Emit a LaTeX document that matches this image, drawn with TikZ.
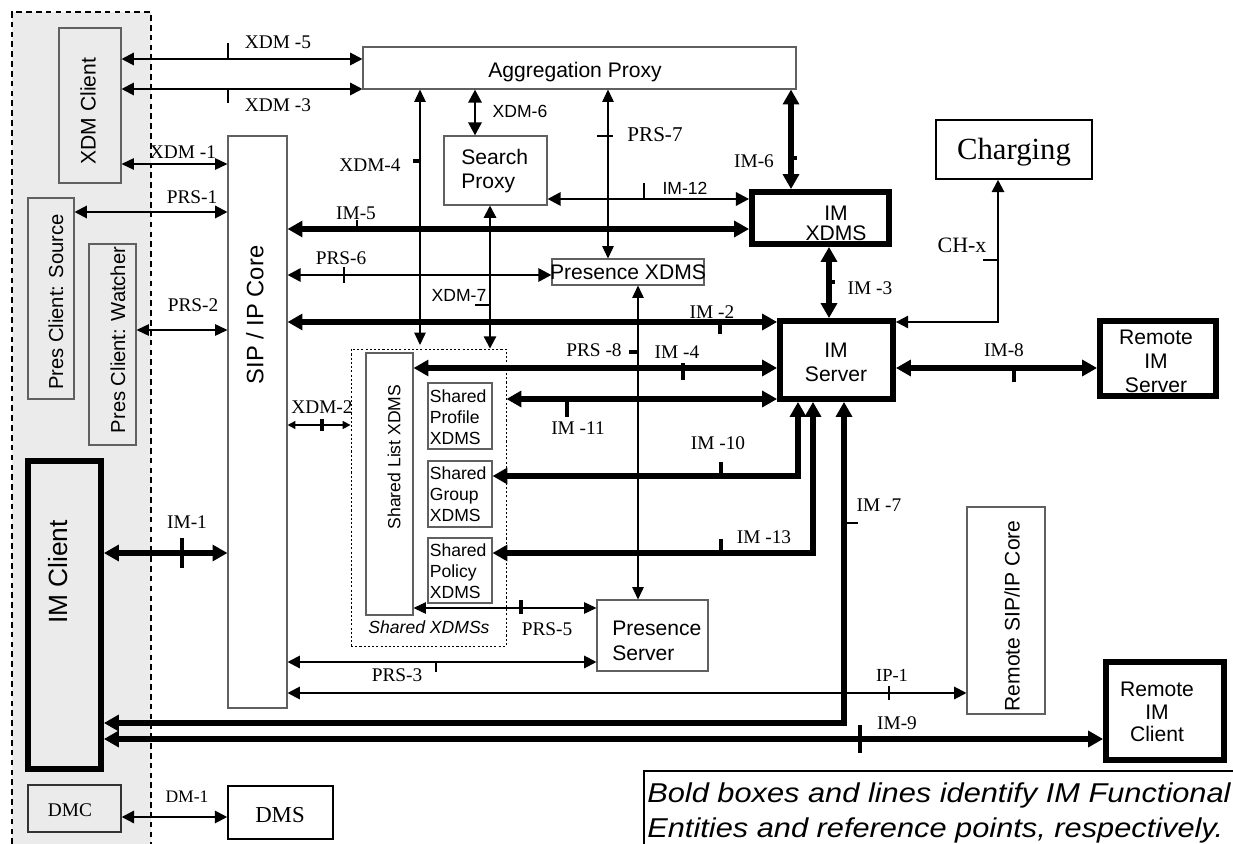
\documentclass[tikz,border=0pt]{standalone}
\usepackage{fontspec}
\setmainfont{Liberation Serif}
\setsansfont{Liberation Sans}
\usepackage{graphicx}
\usetikzlibrary{arrows.meta}
\definecolor{bggray}{HTML}{EBEBEB}
\definecolor{boxline}{HTML}{606060}
\newcommand\fsz[2]{\fontsize{#1}{#2}\selectfont}
\begin{document}
\begin{tikzpicture}[x=0.02cm,y=-0.02cm,
  wh/.style 2 args={minimum width=#1*0.02cm, minimum height=#2*0.02cm},
  wbox/.style={draw=boxline, line width=0.6pt, inner sep=0pt, fill=white},
  gbox/.style={draw=boxline, line width=0.6pt, inner sep=0pt, fill=bggray},
  kbox/.style={draw=black, line width=0.9pt, inner sep=0pt, fill=white},
  bbox/.style={draw=black, line width=3.3pt, inner sep=0pt, fill=white},
  dotbox/.style={draw=black, line width=0.5pt, dash pattern=on 1.2pt off 1.2pt, inner sep=0pt},
  lab/.style={inner sep=0pt, font=\fsz{11}{13}},
  slab/.style={inner sep=0pt, font=\sffamily\fsz{12}{14}},
  sslab/.style={inner sep=0pt, font=\sffamily\fsz{10}{12}},
  thinln/.style={line width=0.6pt, arrows={Triangle[length=7pt,width=6.5pt]-Triangle[length=7pt,width=6.5pt]}},
  medln/.style={line width=1.2pt, arrows={Triangle[length=7pt,width=7pt]-Triangle[length=7pt,width=7pt]}},
  medpln/.style={line width=1.6pt, arrows={Triangle[length=7.5pt,width=7.5pt]-Triangle[length=7.5pt,width=7.5pt]}},
  thickln/.style={line width=3pt, arrows={Triangle[length=8.5pt,width=9pt]-Triangle[length=8.5pt,width=9pt]}},
  smallln/.style={line width=0.9pt, arrows={Triangle[length=4.5pt,width=4.5pt]-Triangle[length=4.5pt,width=4.5pt]}},
  tick/.style={line width=1.2pt},
  ttick/.style={line width=1.8pt}
]
\useasboundingbox (0,0) rectangle (1233,844);
% client region
\fill[bggray] (12,12) rectangle (151,844);
\draw[line width=0.8pt, dash pattern=on 3.2pt off 2.4pt] (12,844) -- (12,12) -- (151,12) -- (151,844);

% boxes
\node[gbox, wh={62}{155}] (xdmc) at (90,105.5) {};
\node[slab, rotate=90] (xdmct) at (88,111) {XDM Client};
\node[gbox, wh={46}{201}] (psrc) at (51,298.5) {};
\node[slab, font=\sffamily\fsz{11.5}{14}, rotate=90] (psrct) at (56,302) {Pres Client: Source};
\node[gbox, wh={47}{201}] (pwat) at (112.5,344.5) {};
\node[slab, font=\sffamily\fsz{11.5}{14}, rotate=90] (pwatt) at (118,340) {Pres Client: Watcher};
\node[bbox, fill=bggray, wh={73}{308}] (imc) at (64.5,615) {};
\node[slab, font=\sffamily\fsz{15}{18}, rotate=90] (imct) at (58,572) {IM Client};
\node[gbox, draw=black!80, line width=0.8pt, wh={93}{47}] (dmc) at (74.5,808.5) {};
\node[lab] (dmct) at (70,810) {DMC};
\node[kbox, wh={105}{53}] (dms) at (280.5,812.5) {};
\node[lab, font=\fsz{13}{15}] (dmst) at (280,815) {DMS};
\node[wbox, wh={59}{572}] (sip) at (257.5,422) {};
\node[slab, font=\sffamily\fsz{13.5}{16}, rotate=90] (sipt) at (255,315) {SIP / IP Core};
\node[wbox, wh={433}{42}] (agg) at (579.5,68) {};
\node[slab] (aggt) at (575,72) {Aggregation Proxy};
\node[wbox, wh={103}{69}] (srch) at (495.5,170.5) {};
\node[slab, align=left, anchor=west] (srcht) at (461,171) {Search\\Proxy};
\node[bbox, wh={137}{52}] (imx) at (820.5,218) {};
\node[slab, align=center, font=\sffamily\fsz{12}{11.5}] (imxt) at (836,223) {IM\\XDMS};
\node[kbox, wh={156}{59}] (chg) at (1014,149.5) {};
\node[lab, font=\fsz{17.5}{20}] (chgt) at (1014,152) {Charging};
\node[bbox, wh={113}{78}] (ims) at (836.5,360) {};
\node[slab, align=center] (imst) at (836,362.5) {IM\\Server};
\node[bbox, wh={116}{75}] (rims) at (1158,358.5) {};
\node[slab, align=center, font=\sffamily\fsz{12}{13.7}] (rimst) at (1156,361) {Remote\\IM\\Server};
\node[wbox, wh={152}{26}] (pxdms) at (628,272) {};
\node[slab] (pxdmst) at (628,272) {Presence XDMS};
\node[dotbox, wh={155}{297}] (shx) at (428.5,497.5) {};
\node[wbox, wh={47}{262}] (slist) at (389.5,484) {};
\node[sslab, rotate=90] (slistt) at (394,457) {Shared List XDMS};
\node[wbox, wh={64}{66}] (sprof) at (460,416) {};
\node[sslab, align=left, anchor=west] (sproft) at (429.5,417) {Shared\\Profile\\XDMS};
\node[wbox, wh={64}{66}] (sgrp) at (460,494) {};
\node[sslab, align=left, anchor=west] (sgrpt) at (429.5,494.5) {Shared\\Group\\XDMS};
\node[wbox, wh={64}{65}] (spol) at (460,570.5) {};
\node[sslab, align=left, anchor=west] (spolt) at (429.5,571) {Shared\\Policy\\XDMS};
\node[sslab, font=\sffamily\itshape\fsz{10}{12}] (shxt) at (429,627) {Shared XDMSs};
\node[wbox, wh={111}{71}] (psrv) at (652.5,635.5) {};
\node[slab, align=left, anchor=west] (psrvt) at (612,641) {Presence\\Server};
\node[wbox, wh={78}{207}] (rsip) at (1006,610.5) {};
\node[slab, rotate=90] (rsipt) at (1012,616) {Remote SIP/IP Core};
\node[bbox, wh={118}{98}] (rimc) at (1165,711) {};
\node[slab, align=center, font=\sffamily\fsz{12}{12.8}] (rimct) at (1157,712) {Remote\\IM\\Client};

% note box
\draw[line width=1.2pt] (1240,771) -- (644,771) -- (644,850);
\node[anchor=base west, inner sep=0pt, font=\sffamily\itshape\fsz{15.5}{20}] (note1) at (647,802) {\scalebox{1.13}[1]{Bold boxes and lines identify IM Functional}};
\node[anchor=base west, inner sep=0pt, font=\sffamily\itshape\fsz{15.5}{20}] (note2) at (647,837) {\scalebox{1.13}[1]{Entities and reference points, respectively.}};

% ---------------- connectors ----------------
% XDM-5
\draw[medln] (xdmc.east |- 0,59) -- (agg.west |- 0,59);
\draw[tick] (228,43) -- (228,59);
\node[lab] (l5) at (278,42) {XDM -5};
% XDM-3
\draw[medln] (xdmc.east |- 0,89) -- (agg.west |- 0,89);
\draw[tick] (228,89) -- (228,103);
\node[lab] (l3) at (278,105) {XDM -3};
% XDM-1
\draw[thinln] (xdmc.east |- 0,164) -- (sip.west |- 0,164);
\node[lab] (l1) at (183,152) {XDM -1};
% PRS-1
\draw[medln] (psrc.east |- 0,212) -- (sip.west |- 0,212);
\node[lab] (lp1) at (192,197) {PRS-1};
% PRS-2
\draw[thinln] (pwat.east |- 0,330) -- (sip.west |- 0,330);
\node[lab] (lp2) at (193,305) {PRS-2};
% IM-1
\draw[thickln] (imc.east |- 0,553) -- (sip.west |- 0,553);
\draw[ttick] (182,538) -- (182,568);
\node[lab] (li1) at (187,522) {IM-1};
% XDM-2
\draw[smallln] (sip.east |- 0,425) -- (shx.west |- 0,425);
\draw[ttick] (322,419) -- (322,431);
\node[lab] (l2) at (322,407) {XDM-2};
% IM-5
\draw[thickln] (sip.east |- 0,229) -- (imx.west |- 0,229);
\draw[tick] (357,220) -- (357,229);
\node[lab] (li5) at (356,213) {IM-5};
% PRS-6
\draw[medpln] (sip.east |- 0,275) -- (pxdms.west |- 0,275);
\draw[tick] (344,267) -- (344,283);
\node[lab] (lp6) at (341,258) {PRS-6};
% IM-2
\draw[thickln] (sip.east |- 0,322) -- (ims.west |- 0,322);
\draw[ttick] (720,322) -- (720,334);
\node[lab] (li2) at (712,312) {IM -2};
% PRS-3
\draw[medln] (sip.east |- 0,662) -- (psrv.west |- 0,662);
\draw[tick] (436,662) -- (436,672);
\node[lab] (lp3) at (397,675) {PRS-3};
% IP-1
\draw[medln] (sip.east |- 0,693) -- (rsip.west |- 0,693);
\draw[tick] (889,686) -- (889,700);
\node[lab, font=\fsz{10.5}{12}] (lip1) at (892,675) {IP-1};
% IM-7
\draw[thickln] (imc.east |- 0,723) -| (ims.south -| 844,0);
\draw[tick] (844,523) -- (858,523);
\node[lab] (li7) at (879,505) {IM -7};
% IM-9
\draw[thickln] (imc.east |- 0,739) -- (rimc.west |- 0,739);
\draw[ttick] (860,725) -- (860,753);
\node[lab] (li9) at (897,723) {IM-9};
% DM-1
\draw[medln] (dmc.east |- 0,817) -- (dms.west |- 0,817);
\node[lab, font=\fsz{10}{12}] (ldm1) at (187,797) {DM-1};
% XDM-4
\coordinate (x4end) at (420,345);
\draw[thinln] (agg.south -| 420,0) -- (x4end);
\draw[ttick] (413,161) -- (420,161);
\node[lab] (l4) at (370,165) {XDM-4};
% XDM-6
\draw[medpln] (agg.south -| 475,0) -- (srch.north -| 475,0);
\node[sslab] (l6) at (520,111) {XDM-6};
% XDM-7
\draw[medln] (srch.south -| 490,0) -- (shx.north -| 490,0);
\draw[tick] (475,305) -- (490,305);
\node[sslab] (l7) at (459,295) {XDM-7};
% PRS-7
\draw[thinln] (agg.south -| 608,0) -- (pxdms.north -| 608,0);
\draw[tick] (597,136) -- (613,136);
\node[lab, font=\fsz{12}{14}] (lp7) at (655,135) {PRS-7};
% IM-6
\draw[thickln] (agg.south -| 791,0) -- (imx.north -| 791,0);
\draw[ttick] (791,158) -- (797,158);
\node[lab] (li6) at (754,161) {IM-6};
% IM-12
\draw[medpln] (srch.east |- 0,199) -- (imx.west |- 0,199);
\draw[tick] (644,183) -- (644,199);
\node[sslab] (li12) at (685,188) {IM-12};
% IM-3
\draw[thickln] (imx.south -| 829,0) -- (ims.north -| 829,0);
\draw[ttick] (829,282) -- (835,282);
\node[lab] (li3) at (870,288) {IM -3};
% CH-x
\draw[medln] (ims.east |- 0,322) -| (chg.south -| 998,0);
\draw[tick] (983,260) -- (998,260);
\node[lab, font=\fsz{12.5}{14}] (lch) at (962,245) {CH-x};
% IM-8
\draw[thickln] (ims.east |- 0,368) -- (rims.west |- 0,368);
\draw[ttick] (1014,368) -- (1014,382);
\node[lab] (li8) at (1004,350) {IM-8};
% PRS-8
\draw[thinln] (pxdms.south -| 638,0) -- (psrv.north -| 638,0);
\draw[ttick] (629,352) -- (638,352);
\node[lab] (lp8) at (594,350) {PRS -8};
% IM-4
\draw[thickln] (slist.east |- 0,368) -- (ims.west |- 0,368);
\draw[ttick] (683,363) -- (683,380);
\node[lab] (li4) at (677,352) {IM -4};
% IM-11
\draw[thickln] (shx.east |- 0,399) -- (ims.west |- 0,399);
\draw[ttick] (567,399) -- (567,417);
\node[lab] (li11) at (578,428) {IM -11};
% IM-10
\draw[thickln] (sgrp.east |- 0,476) -| (ims.south -| 798,0);
\draw[ttick] (721,462) -- (721,476);
\node[lab] (li10) at (718,443) {IM -10};
% IM-13
\draw[thickln] (spol.east |- 0,553) -| (ims.south -| 813,0);
\draw[ttick] (721,539) -- (721,553);
\node[lab] (li13) at (764,537) {IM -13};
% PRS-5
\draw[thinln] (slist.east |- 0,608) -- (psrv.west |- 0,608);
\draw[ttick] (521,600) -- (521,614);
\node[lab] (lp5) at (547,629) {PRS-5};
\end{tikzpicture}
\end{document}
